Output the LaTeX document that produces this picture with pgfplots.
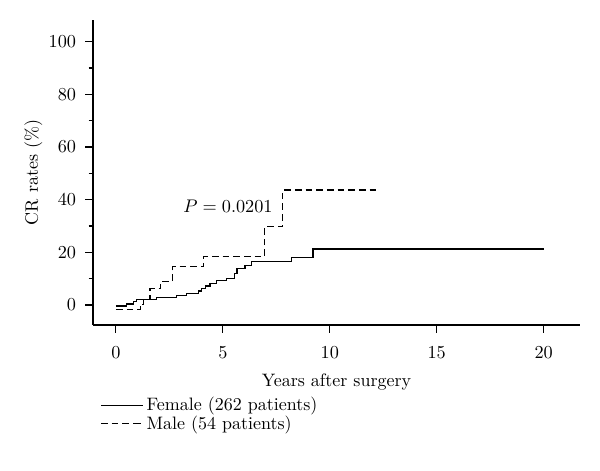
\documentclass[border=0pt]{standalone}
\usepackage{pgfplots}
\pgfplotsset{compat=1.18}
\begin{document}
\begin{tikzpicture}
\begin{axis}[
  at={(0,0)}, anchor=south west,
  scale only axis, width=292.2pt, height=183pt,
  xmin=-1.07, xmax=21.7, ymin=-7.6, ymax=108.2,
  axis x line*=bottom, axis y line*=left,
  axis line style={-, line width=0.8pt},
  tick style={line width=0.7pt, black},
  tick align=outside,
  major tick length=4.6pt, minor tick length=2.6pt,
  xtick={0,5,10,15,20},
  ytick={0,20,40,60,80,100},
  minor ytick={10,30,50,70,90},
  tick label style={font=\fontsize{10.8pt}{12pt}\selectfont},
  xticklabel style={yshift=-5pt},
  yticklabel style={xshift=-2pt},
  label style={font=\fontsize{10.8pt}{12pt}\selectfont},
  xlabel={Years after surgery},
  ylabel={CR rates (\%)},
  xlabel style={yshift=-2.2pt},
  ylabel style={yshift=-3pt},
  legend style={draw=none, fill=none, at={(0.0144,-0.225)}, anchor=north west,
    font=\fontsize{10.8pt}{12pt}\selectfont, inner sep=0pt, row sep=-2.5pt,
    cells={anchor=west}},
  legend cell align=left,
  legend image code/.code={\draw[#1] (0cm,0cm) -- (0.7cm,0cm); \path (0.7cm,0cm) -- (0.7cm+5pt,0cm);},
]
\addplot[const plot, black, line width=0.8pt] coordinates {
(0,-0.4)(0.5,0.4)(0.81,1.3)(0.97,2.2)(1.9,2.8)(2.84,3.5)(3.3,4.4)(3.85,5.3)
(4.0,6.3)(4.2,7.2)(4.4,8.2)(4.7,9.2)(5.17,10.1)(5.56,12.0)(5.67,13.9)
(6.03,14.9)(6.34,16.5)(8.21,18.0)(9.22,21.3)(20,21.3)};
\addlegendentry{Female (262 patients)}
\addplot[const plot, black, line width=0.8pt, dash pattern=on 4pt off 2.4pt] coordinates {
(0,-1.8)(1.15,0.3)(1.3,2.2)(1.6,6.3)(2.1,8.9)(2.65,14.5)(4.1,18.4)
(6.96,29.8)(7.8,43.6)(12.3,43.6)};
\addlegendentry{Male (54 patients)}
\node[font=\fontsize{10.8pt}{12pt}\selectfont] at (axis cs:5.24,37.3) {$P = 0.0201$};
\end{axis}
\pgfresetboundingbox
\path[use as bounding box] (-55.8pt,-87.6pt) rectangle (304.2pt,195pt);
\end{tikzpicture}
\end{document}
